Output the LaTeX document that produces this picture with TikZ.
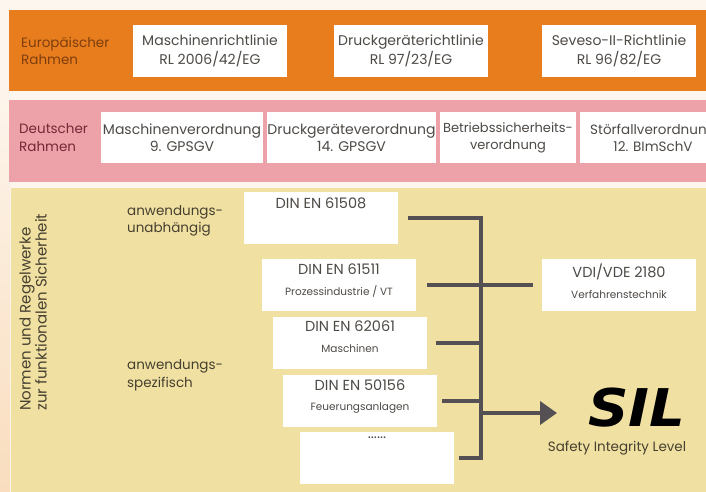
\documentclass[tikz,border=0pt]{standalone}
\usepackage{fontspec}
\setmainfont{Poppins}
\newfontfamily\silfont{DejaVu Sans}
\usetikzlibrary{arrows.meta,positioning}

\newlength{\du}
\setlength{\du}{1pt}
\newcommand{\normsub}{\fontsize{10.5}{12}\selectfont}

\definecolor{bandorange}{RGB}{232,125,30}
\definecolor{bandpink}{RGB}{236,162,168}
\definecolor{bandyellow}{RGB}{240,225,162}
\definecolor{pagecream}{RGB}{253,246,238}
\definecolor{pagepeach}{RGB}{249,221,190}
\definecolor{eutext}{RGB}{125,62,14}
\definecolor{detext}{RGB}{118,40,55}
\definecolor{boxtext}{RGB}{78,74,70}
\definecolor{normtext}{RGB}{70,64,48}
\definecolor{busline}{RGB}{85,80,84}

\tikzset{
  regbox/.style={fill=white, draw=none, inner sep=0pt, align=center,
    minimum width=154\du, minimum height=52\du, text=boxtext,
    font=\fontsize{14}{19}\selectfont},
  verbox/.style={regbox, minimum height=51\du, font=\fontsize{14}{17}\selectfont},
  normbox/.style={fill=white, draw=none, inner sep=0pt,
    minimum width=154\du, minimum height=52\du},
  normtitle/.style={inner sep=0pt, align=center, text=boxtext,
    font=\fontsize{14.5}{16}\selectfont},
  framelabel/.style={anchor=west, align=left, inner sep=0pt,
    font=\fontsize{13.5}{17.5}\selectfont},
  sidelabel/.style={inner sep=0pt, rotate=90, anchor=west, text=normtext,
    font=\fontsize{15}{15}\selectfont},
  bus/.style={draw=busline, line width=4\du},
}

\begin{document}
\begin{tikzpicture}[x=\du, y=\du]
\useasboundingbox (0,0) rectangle (706,492);
\clip (0,0) rectangle (706,492);
% page background
\fill[pagecream] (0,0) rectangle (706,492);
\shade[top color=pagecream, bottom color=pagepeach] (0,0) rectangle (10,420);
% europaeischer rahmen
\fill[bandorange] (9,401) rectangle (706,482);
\node[framelabel, text=eutext] (eulabel) at (21,441) {Europäischer\\Rahmen};
\node[regbox] (mrl) at (210,441) {Maschinenrichtlinie\\RL 2006/42/EG};
\node[regbox] (drl) at (411,441) {Druckgeräterichtlinie\\RL 97/23/EG};
\node[regbox] (srl) at (619,441) {Seveso-II-Richtlinie\\RL 96/82/EG};
% deutscher rahmen
\fill[bandpink] (9,310) rectangle (706,392);
\node[framelabel, text=detext] (delabel) at (19,354.5) {Deutscher\\Rahmen};
\node[verbox, minimum width=162\du] (mvo) at (182,354.5) {Maschinenverordnung\\9. GPSGV};
\node[verbox, minimum width=169\du] (dvo) at (351.5,354.5) {Druckgeräteverordnung\\14. GPSGV};
\node[verbox, minimum width=136\du, font=\fontsize{13}{17}\selectfont] (bvo) at (508,354.5) {Betriebssicherheits-\\verordnung};
\node[verbox, minimum width=146\du, font=\fontsize{13.5}{17}\selectfont] (svo) at (653,354.5) {Störfallverordnung\\12. BImSchV};
% normen und regelwerke
\fill[bandyellow] (11,0) rectangle (706,304);
\node[sidelabel] (normlabel) at (27,81) {Normen und Regelwerke};
\node[sidelabel] (sichlabel) at (41,81) {zur funktionalen Sicherheit};
\node[framelabel, text=normtext] (unabh) at (127,271) {anwendungs-\\unabhängig};
\node[framelabel, text=normtext] (spez) at (127,116.5) {anwendungs-\\spezifisch};

\node[normbox] (en61508) at (321,273.5) {};
\node[normtitle, below=5\du of en61508.north] {DIN EN 61508};
\node[normbox] (en61511) at (339,207) {};
\node[normtitle, below=5\du of en61511.north] {DIN EN 61511\\[5pt]{\normsub Prozessindustrie / VT}};
\node[normbox] (en62061) at (350,149) {};
\node[normtitle, below=4\du of en62061.north] {DIN EN 62061\\[5pt]{\normsub Maschinen}};
\node[normbox] (en50156) at (360,91) {};
\node[normtitle, below=5\du of en50156.north] {DIN EN 50156\\[4pt]{\normsub Feuerungsanlagen}};
\node[normbox] (weitere) at (377,34) {};
\node[normtitle, below=5\du of weitere.north] {......};
\node[normbox] (vdi) at (619,207) {};
\node[normtitle, below=5\du of vdi.north] {VDI/VDE 2180\\[5pt]{\normsub Verfahrenstechnik}};

\node[inner sep=0pt, text=black, xscale=1.08,
  font=\silfont\bfseries\itshape\fontsize{52}{52}\selectfont] (sil) at (637,84) {SIL};
\node[inner sep=0pt, text=normtext, font=\fontsize{13.5}{15}\selectfont] (sillevel) at (617,44) {Safety Integrity Level};

% sammelschiene
\coordinate (busx) at (481,0);
\coordinate (siltip) at (557,79);
\draw[bus] ([xshift=10\du]en61508.east) -| (busx |- weitere.east) -- ([xshift=5\du]weitere.east);
\draw[bus] ([xshift=11\du]en61511.east) -- ([xshift=-9\du]vdi.west |- en61511.east);
\draw[bus] ([xshift=9\du]en62061.east) -- (busx |- en62061.east);
\draw[bus] ([xshift=5\du]en50156.east) -- (busx |- en50156.east);
\draw[bus, -{Triangle[length=17pt, width=23pt]}] (busx |- siltip) -- (siltip);
\end{tikzpicture}
\end{document}
